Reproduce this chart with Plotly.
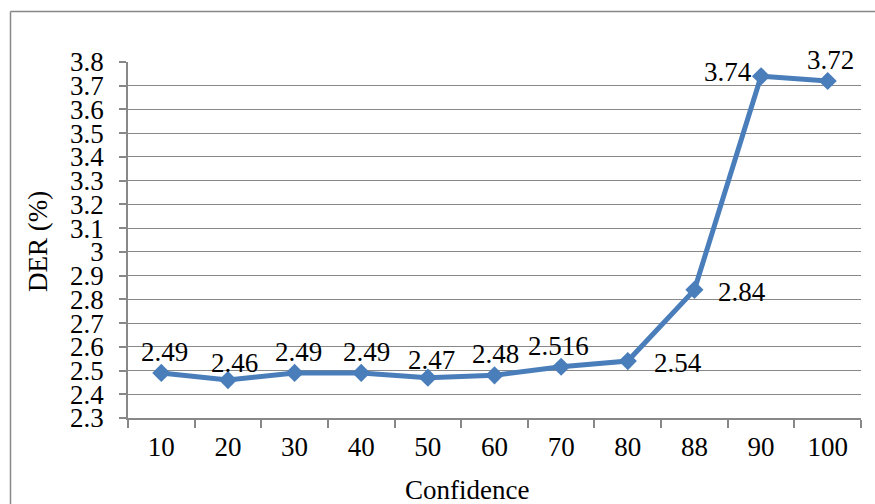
import plotly.graph_objects as go

categories = ["10", "20", "30", "40", "50", "60", "70", "80", "88", "90", "100"]
der_values = [2.49, 2.46, 2.49, 2.49, 2.47, 2.48, 2.516, 2.54, 2.84, 3.74, 3.72]
label_texts = ["2.49", "2.46", "2.49", "2.49", "2.47", "2.48", "2.516", "2.54", "2.84", "3.74", "3.72"]

# label placement (style only): (xanchor, xshift, yshift)
label_place = [
    ("center", 3, 21), ("center", 7, 17), ("center", 4, 21), ("center", 5, 21),
    ("center", 4, 18), ("center", 1, 21), ("center", -3, 21), ("left", 24, -2),
    ("left", 22, -2), ("right", -7, 4), ("center", 3, 21),
]

W, H = 875, 504
L, R, T, B = 128, 14, 62, 86
pw, ph = W - L - R, H - T - B

def px(x):
    return (x - L) / pw

def py(y):
    return (H - B - y) / ph

FONT = "Liberation Serif"
FS = 27
BLUE = "#4A7EBB"
GREY = "#888888"

fig = go.Figure()
fig.add_trace(go.Scatter(
    x=categories, y=der_values, mode="lines+markers",
    line=dict(color=BLUE, width=5),
    marker=dict(symbol="diamond", size=14, color=BLUE),
    showlegend=False, cliponaxis=False,
))

annotations = []
for i, (v, t, (xa, xs, ys)) in enumerate(zip(der_values, label_texts, label_place)):
    annotations.append(dict(
        x=i, y=v, xref="x", yref="y", text=t, showarrow=False,
        xanchor=xa, yanchor="middle", xshift=xs, yshift=ys,
        font=dict(family=FONT, size=FS, color="black"),
    ))

annotations.append(dict(
    x=px(38), y=py(242), xref="paper", yref="paper", text="DER (%)",
    showarrow=False, textangle=-90, xanchor="center", yanchor="middle",
    font=dict(family=FONT, size=FS, color="black"),
))
annotations.append(dict(
    x=px(467), y=py(490), xref="paper", yref="paper", text="Confidence",
    showarrow=False, xanchor="center", yanchor="middle",
    font=dict(family=FONT, size=FS, color="black"),
))

shapes = [
    dict(type="line", xref="paper", yref="paper", x0=px(10.5), x1=px(10.5),
         y0=py(11.5), y1=py(520), line=dict(color=GREY, width=1.5)),
    dict(type="line", xref="paper", yref="paper", x0=px(10.5), x1=px(900),
         y0=py(11.5), y1=py(11.5), line=dict(color=GREY, width=1.5)),
]

fig.update_layout(
    width=W, height=H,
    margin=dict(l=L, r=R, t=T, b=B),
    paper_bgcolor="white", plot_bgcolor="white",
    annotations=annotations, shapes=shapes,
    font=dict(family=FONT, size=FS, color="black"),
    xaxis=dict(
        type="category", range=[-0.5, len(categories) - 0.5],
        showgrid=False, showline=True, linecolor=GREY, linewidth=1.5,
        ticks="outside", tickson="boundaries", ticklen=8, tickcolor=GREY, tickwidth=1.5,
        tickfont=dict(family=FONT, size=FS, color="black"),
        ticklabelstandoff=4,
    ),
    yaxis=dict(
        range=[2.3, 3.8], dtick=0.1, tick0=2.3,
        showgrid=True, gridcolor=GREY, gridwidth=1,
        showline=True, linecolor=GREY, linewidth=1.5, zeroline=False,
        ticks="outside", ticklen=7, tickcolor=GREY, tickwidth=1.5,
        tickfont=dict(family=FONT, size=FS, color="black"),
        ticklabelstandoff=10,
    ),
)

fig.write_html("out.html")
